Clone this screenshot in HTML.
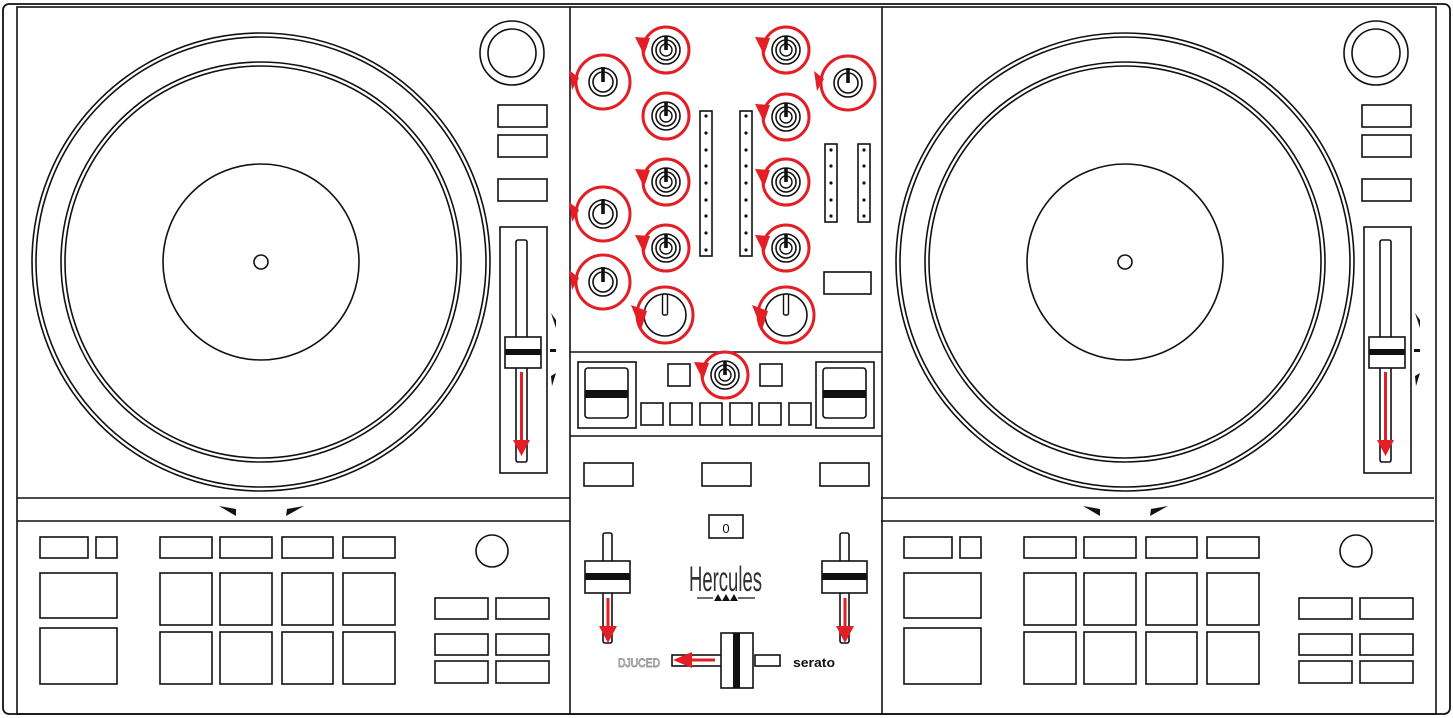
<!DOCTYPE html>
<html><head><meta charset="utf-8">
<style>
html,body{margin:0;padding:0;background:#fff;}
svg{display:block;}
</style></head>
<body>
<svg width="1453" height="718" viewBox="0 0 1453 718" xmlns="http://www.w3.org/2000/svg">
<defs>
  <g id="sk">
    <circle r="23" fill="none" stroke="#e31e24" stroke-width="3"/>
    <circle r="14" fill="none" stroke="#111" stroke-width="1.6"/>
    <circle r="10" fill="none" stroke="#111" stroke-width="1.6"/>
    <circle r="6" fill="none" stroke="#111" stroke-width="1.4"/>
    <rect x="-1.8" y="-14" width="3.6" height="14" fill="#111"/>
  </g>
  <g id="ska">
    <use href="#sk"/>
    <polygon points="-31,-13 -16,-12 -22,5" fill="#e31e24"/>
  </g>
  <g id="sa">
    <circle r="27" fill="none" stroke="#e31e24" stroke-width="3"/>
    <circle r="14" fill="none" stroke="#111" stroke-width="1.6"/>
    <circle r="10" fill="none" stroke="#111" stroke-width="1.6"/>
    <rect x="-1.8" y="-15" width="3.6" height="15" fill="#111"/>
    <polygon points="-34,-12 -24,-4 -31,8" fill="#e31e24"/>
  </g>
  <g id="big">
    <circle r="28" fill="none" stroke="#e31e24" stroke-width="3"/>
    <circle r="21" fill="none" stroke="#111" stroke-width="1.6"/>
    <rect x="-2.5" y="-21" width="5" height="21" rx="1.5" fill="#fff" stroke="#111" stroke-width="1.4"/>
    <polygon points="-34,-10 -18,-4 -24,15" fill="#e31e24"/>
  </g>
  <g id="deck" fill="none" stroke="#111" stroke-width="1.6">
    <circle cx="261" cy="262" r="229"/>
    <circle cx="261" cy="262" r="225"/>
    <circle cx="261" cy="262" r="200"/>
    <circle cx="261" cy="262" r="196"/>
    <circle cx="261" cy="262" r="98"/>
    <circle cx="261" cy="262" r="7"/>
    <circle cx="512" cy="53" r="32"/>
    <circle cx="512" cy="53" r="24"/>
    <rect x="498" y="105" width="49" height="22"/>
    <rect x="498" y="135" width="49" height="22"/>
    <rect x="498" y="179" width="49" height="22"/>
    <rect x="500" y="227" width="47" height="246"/>
    <rect x="516" y="240" width="11" height="222" rx="2"/>
    <rect x="505" y="337" width="36" height="31" fill="#fff"/>
    <rect x="505" y="349" width="36" height="6" fill="#111" stroke="none"/>
    <line x1="521.5" y1="372" x2="521.5" y2="442" stroke="#e31e24" stroke-width="3"/>
    <polygon points="513,440 530,440 521.5,456" fill="#e31e24" stroke="none"/>
    <polygon points="551,313 556,320 556,328" fill="#111" stroke="none"/>
    <rect x="550" y="349" width="6" height="3" fill="#111" stroke="none"/>
    <polygon points="551,376 556,373 552,386" fill="#111" stroke="none"/>
    <line x1="17" y1="498" x2="570" y2="498"/>
    <line x1="17" y1="521" x2="570" y2="521"/>
    <polygon points="219,506 236,509 236,516" fill="#111" stroke="none"/>
    <polygon points="286,516 287,509 304,506" fill="#111" stroke="none"/>
    <rect x="40" y="537" width="48" height="21"/>
    <rect x="96" y="537" width="21" height="21"/>
    <rect x="160" y="537" width="52" height="21"/>
    <rect x="220" y="537" width="52" height="21"/>
    <rect x="282" y="537" width="51" height="21"/>
    <rect x="343" y="537" width="52" height="21"/>
    <rect x="40" y="573" width="77" height="45"/>
    <rect x="40" y="628" width="77" height="56"/>
    <rect x="160" y="573" width="52" height="52"/>
    <rect x="220" y="573" width="52" height="52"/>
    <rect x="282" y="573" width="51" height="52"/>
    <rect x="343" y="573" width="52" height="52"/>
    <rect x="160" y="632" width="52" height="52"/>
    <rect x="220" y="632" width="52" height="52"/>
    <rect x="282" y="632" width="51" height="52"/>
    <rect x="343" y="632" width="52" height="52"/>
    <circle cx="492" cy="551" r="16"/>
    <rect x="435" y="598" width="53" height="21"/>
    <rect x="496" y="598" width="53" height="21"/>
    <rect x="435" y="634" width="53" height="21"/>
    <rect x="496" y="634" width="53" height="21"/>
    <rect x="435" y="661" width="53" height="22"/>
    <rect x="496" y="661" width="53" height="22"/>
  </g>
  <g id="vu9">
    <rect x="0" y="0" width="12" height="145" fill="none" stroke="#111" stroke-width="1.6"/>
    <g fill="#111">
      <circle cx="6" cy="5" r="1.6"/><circle cx="6" cy="22" r="1.6"/><circle cx="6" cy="39" r="1.6"/>
      <circle cx="6" cy="55" r="1.6"/><circle cx="6" cy="72" r="1.6"/><circle cx="6" cy="89" r="1.6"/>
      <circle cx="6" cy="105" r="1.6"/><circle cx="6" cy="122" r="1.6"/><circle cx="6" cy="139" r="1.6"/>
    </g>
  </g>
  <g id="vu5">
    <rect x="0" y="0" width="12" height="78" fill="none" stroke="#111" stroke-width="1.6"/>
    <g fill="#111">
      <circle cx="6" cy="6" r="1.6"/><circle cx="6" cy="22" r="1.6"/><circle cx="6" cy="39" r="1.6"/>
      <circle cx="6" cy="56" r="1.6"/><circle cx="6" cy="72" r="1.6"/>
    </g>
  </g>
</defs>

<rect x="3" y="4" width="1447" height="710" rx="6" fill="#fff" stroke="#111" stroke-width="1.8"/>
<rect x="17" y="7" width="1419" height="707" fill="none" stroke="#111" stroke-width="1.6"/>
<line x1="570" y1="7" x2="570" y2="714" stroke="#111" stroke-width="1.6"/>
<line x1="882" y1="7" x2="882" y2="714" stroke="#111" stroke-width="1.6"/>
<line x1="570" y1="352" x2="882" y2="352" stroke="#111" stroke-width="1.6"/>
<line x1="570" y1="436" x2="882" y2="436" stroke="#111" stroke-width="1.6"/>

<use href="#deck"/>
<use href="#deck" transform="translate(864,0)"/>

<use href="#sa" x="603" y="82"/>
<use href="#sa" x="603" y="214"/>
<use href="#sa" x="603" y="282"/>
<use href="#ska" x="666" y="50"/>
<use href="#sk" x="666" y="116"/>
<use href="#ska" x="666" y="182"/>
<use href="#ska" x="666" y="248"/>
<use href="#big" x="665" y="315"/>
<use href="#ska" x="786" y="50"/>
<use href="#ska" x="786" y="117"/>
<use href="#ska" x="786" y="182"/>
<use href="#ska" x="786" y="248"/>
<use href="#big" x="786" y="315"/>
<use href="#sa" x="848" y="83"/>
<use href="#ska" x="725" y="375"/>

<use href="#vu9" x="700" y="111"/>
<use href="#vu9" x="740" y="111"/>
<use href="#vu5" x="825" y="144"/>
<use href="#vu5" x="858" y="144"/>

<g fill="none" stroke="#111" stroke-width="1.6">
  <rect x="824" y="272" width="47" height="22"/>
  <rect x="578" y="362" width="58" height="66"/>
  <rect x="585" y="368" width="43" height="50" rx="3"/>
  <rect x="816" y="362" width="58" height="66"/>
  <rect x="823" y="368" width="43" height="50" rx="3"/>
  <rect x="668" y="364" width="22" height="22"/>
  <rect x="760" y="364" width="22" height="22"/>
  <rect x="641" y="403" width="22" height="22"/>
  <rect x="670" y="403" width="22" height="22"/>
  <rect x="700" y="403" width="22" height="22"/>
  <rect x="730" y="403" width="22" height="22"/>
  <rect x="759" y="403" width="22" height="22"/>
  <rect x="789" y="403" width="22" height="22"/>
  <rect x="584" y="463" width="49" height="23"/>
  <rect x="702" y="463" width="49" height="23"/>
  <rect x="820" y="463" width="49" height="23"/>
  <rect x="709" y="515" width="34" height="23"/>
  <rect x="603" y="533" width="9" height="110" rx="2"/>
  <rect x="840" y="533" width="9" height="110" rx="2"/>
  <rect x="672" y="655" width="50" height="11"/>
  <rect x="755" y="655" width="25" height="11"/>
</g>
<rect x="585" y="390" width="43" height="8" fill="#111"/>
<rect x="823" y="390" width="43" height="8" fill="#111"/>
<text x="726" y="533" font-family="Liberation Sans, sans-serif" font-size="13" text-anchor="middle" fill="#111">0</text>

<rect x="585" y="561" width="45" height="32" fill="#fff" stroke="#111" stroke-width="1.6"/>
<rect x="585" y="573" width="45" height="7" fill="#111"/>
<line x1="608" y1="598" x2="608" y2="628" stroke="#e31e24" stroke-width="3"/>
<polygon points="599,626 617,626 608,643" fill="#e31e24"/>
<rect x="822" y="561" width="45" height="32" fill="#fff" stroke="#111" stroke-width="1.6"/>
<rect x="822" y="573" width="45" height="7" fill="#111"/>
<line x1="845" y1="598" x2="845" y2="628" stroke="#e31e24" stroke-width="3"/>
<polygon points="836,626 854,626 845,643" fill="#e31e24"/>

<text transform="translate(689,591) scale(1,1.25)" font-family="Liberation Sans, sans-serif" font-size="28" textLength="73" lengthAdjust="spacingAndGlyphs" fill="#333">Hercules</text>
<line x1="697" y1="598" x2="713" y2="598" stroke="#111" stroke-width="1.2"/>
<line x1="738" y1="598" x2="755" y2="598" stroke="#111" stroke-width="1.2"/>
<polygon points="714,601 718,594 722,601" fill="#111"/>
<polygon points="722,601 726,594 730,601" fill="#111"/>
<polygon points="730,601 734,594 738,601" fill="#111"/>

<rect x="721" y="633" width="32" height="55" fill="#fff" stroke="#111" stroke-width="1.6"/>
<rect x="733" y="633" width="7" height="55" fill="#111"/>
<line x1="715" y1="660" x2="690" y2="660" stroke="#e31e24" stroke-width="3"/>
<polygon points="692,652 692,668 673,660" fill="#e31e24"/>
<text x="618" y="667" font-family="Liberation Sans, sans-serif" font-size="12" fill="#fff" stroke="#888" stroke-width="0.8" textLength="42" lengthAdjust="spacingAndGlyphs">DJUCED</text>
<text x="793" y="667" font-family="Liberation Sans, sans-serif" font-size="13" font-weight="bold" fill="#111" textLength="42" lengthAdjust="spacingAndGlyphs">serato</text>
</svg>
</body></html>
